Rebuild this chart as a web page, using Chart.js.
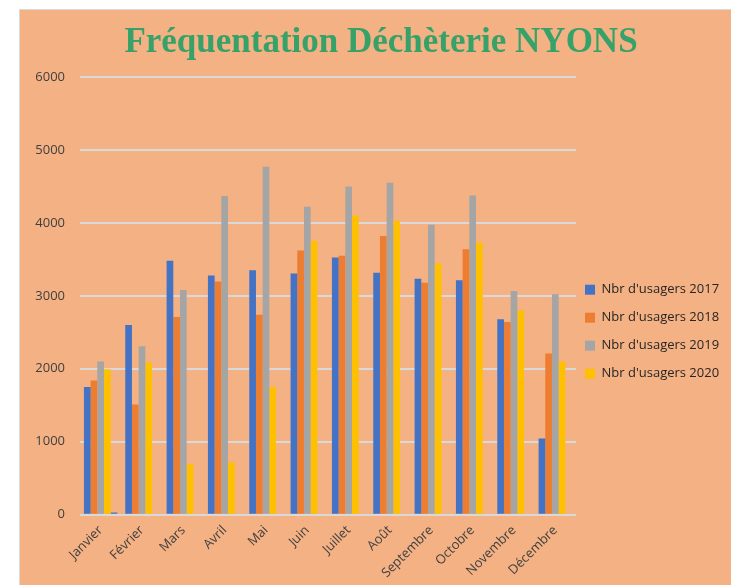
<!DOCTYPE html>
<html>
<head>
<meta charset="utf-8">
<script src="https://cdn.jsdelivr.net/npm/chart.js@4.4.0/dist/chart.umd.min.js"></script>
<style>
    body { margin: 0; background: #ffffff; }
    #box {
        position: absolute; left: 19px; top: 9px; width: 712px; height: 576px;
        background: #F4B183; border-left: 1px solid #d9d9d9; border-top: 1px solid #d9d9d9;
    }
    canvas { display: block; }
</style>
</head>
<body>
<div id="box"><canvas id="myChart" width="711" height="575"></canvas></div>
<script>
var mois = ['Janvier', 'Février', 'Mars', 'Avril', 'Mai', 'Juin', 'Juillet', 'Août', 'Septembre', 'Octobre', 'Novembre', 'Décembre'];
var usagers2017 = [1750, 2600, 3480, 3280, 3350, 3305, 3525, 3315, 3235, 3215, 2680, 1045];
var usagers2018 = [1840, 1510, 2710, 3195, 2740, 3620, 3550, 3820, 3180, 3640, 2640, 2210];
var usagers2019 = [2100, 2310, 3080, 4370, 4770, 4220, 4500, 4550, 3975, 4375, 3065, 3020];
var usagers2020 = [1995, 2085, 690, 715, 1750, 3750, 4100, 4030, 3445, 3730, 2800, 2100];
// petite barre isolée visible à côté de Janvier
var autre = [30, null, null, null, null, null, null, null, null, null, null, null];

// rapproche la légende du graphique
var decaleLegende = {
    id: 'decaleLegende',
    afterLayout: function(chart) {
        chart.legend.left -= 6;
        chart.legend.right -= 6;
    }
};

var main = () => {
    var ctx = document.getElementById('myChart');

    var data = {
        labels: mois,
        datasets: [
            { label: "Nbr d'usagers 2017", data: usagers2017, backgroundColor: '#4472C4' },
            { label: "Nbr d'usagers 2018", data: usagers2018, backgroundColor: '#ED7D31' },
            { label: "Nbr d'usagers 2019", data: usagers2019, backgroundColor: '#A5A5A5' },
            { label: "Nbr d'usagers 2020", data: usagers2020, backgroundColor: '#FFC000' },
            { label: 'autre', data: autre, backgroundColor: '#4472C4' }
        ]
    };

    new Chart(ctx, {
        type: 'bar',
        data: data,
        plugins: [decaleLegende],
        options: {
            responsive: false,
            animation: false,
            datasets: {
                bar: { categoryPercentage: 0.81, barPercentage: 1.0 }
            },
            layout: {
                padding: { left: 11, right: 0, top: 0, bottom: 4 }
            },
            plugins: {
                title: {
                    display: true,
                    text: 'Fréquentation Déchèterie NYONS',
                    color: '#36A269',
                    font: { family: 'Liberation Serif', size: 35, weight: 'bold' },
                    padding: { top: 12, bottom: 13 }
                },
                legend: {
                    position: 'right',
                    maxWidth: 155,
                    title: {
                        // espace vide pour descendre la légende
                        display: true,
                        text: ' ',
                        font: { size: 12 },
                        padding: { top: 0, bottom: 58 }
                    },
                    labels: {
                        color: '#262626',
                        font: { family: 'Open Sans', size: 13 },
                        boxWidth: 10,
                        boxHeight: 10,
                        padding: 15,
                        filter: function(item) { return item.datasetIndex < 4; }
                    }
                },
                tooltip: { enabled: false }
            },
            scales: {
                x: {
                    grid: { display: false },
                    border: { display: false },
                    ticks: {
                        color: '#404040',
                        font: { family: 'Open Sans', size: 13 },
                        minRotation: 45,
                        maxRotation: 45,
                        padding: 0
                    }
                },
                y: {
                    min: 0,
                    max: 6000,
                    afterFit: function(axis) { axis.width = 49; },
                    grid: { color: '#d9d9d9', lineWidth: 2, drawTicks: false },
                    border: { display: false },
                    ticks: {
                        stepSize: 1000,
                        color: '#404040',
                        font: { family: 'Open Sans', size: 13 },
                        padding: 15,
                        callback: function(v) { return String(v); }
                    }
                }
            }
        }
    });
};

main();
</script>
</body>
</html>
